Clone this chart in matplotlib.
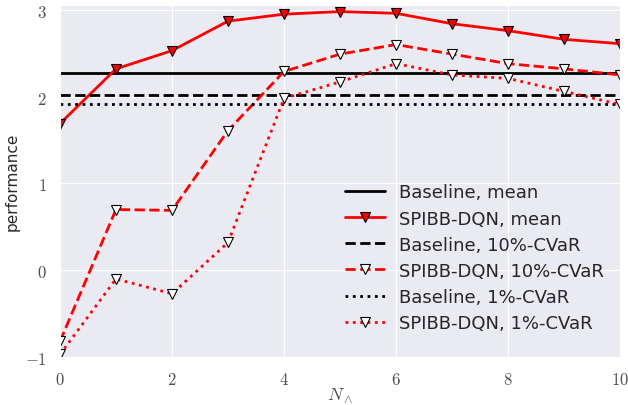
import numpy as np
import matplotlib
matplotlib.use("Agg")
import matplotlib.pyplot as plt
import seaborn as sns
from matplotlib.ticker import FuncFormatter

n_wedge = [0, 1, 2, 3, 4, 5, 6, 7, 8, 9, 10]

baseline_mean = 2.27
baseline_cvar10 = 2.02
baseline_cvar1 = 1.92

spibb_mean = [1.69, 2.32, 2.53, 2.87, 2.95, 2.98, 2.96, 2.84, 2.76, 2.66, 2.61]
spibb_cvar10 = [-0.82, 0.70, 0.69, 1.61, 2.29, 2.49, 2.60, 2.49, 2.38, 2.32, 2.25]
spibb_cvar1 = [-0.97, -0.10, -0.27, 0.32, 1.98, 2.17, 2.38, 2.25, 2.21, 2.06, 1.91]

sns.set_style("darkgrid")
plt.rcParams["font.family"] = ["DejaVu Sans"]
plt.rcParams["mathtext.fontset"] = "cm"

fig = plt.figure(figsize=(6.28, 4.06), dpi=100)
ax = fig.add_axes([0.0955, 0.118, 0.892, 0.866])

xs = np.array(n_wedge)
ax.plot(xs, np.full(len(xs), baseline_mean), color="black", lw=2, ls="-",
        label="Baseline, mean")
ax.plot(xs, spibb_mean, color="red", lw=2, ls="-", marker="v", ms=6.5,
        mfc="red", mec="black", mew=0.8, label="SPIBB-DQN, mean")
ax.plot(xs, np.full(len(xs), baseline_cvar10), color="black", lw=2, ls="--",
        label="Baseline, 10%-CVaR")
ax.plot(xs, spibb_cvar10, color="red", lw=2, ls="--", marker="v", ms=6.5,
        mfc="white", mec="black", mew=0.8, label="SPIBB-DQN, 10%-CVaR")
ax.plot(xs, np.full(len(xs), baseline_cvar1), color="black", lw=2, ls=":",
        label="Baseline, 1%-CVaR")
ax.plot(xs, spibb_cvar1, color="red", lw=2, ls=":", marker="v", ms=6.5,
        mfc="white", mec="black", mew=0.8, label="SPIBB-DQN, 1%-CVaR")

ax.set_xlim(0, 10)
ax.set_ylim(-1, 3.05)
ax.set_xticks([0, 2, 4, 6, 8, 10])
ax.set_yticks([-1, 0, 1, 2, 3])
fmt = FuncFormatter(lambda v, p: "$%d$" % round(v))
ax.xaxis.set_major_formatter(fmt)
ax.yaxis.set_major_formatter(fmt)
ax.tick_params(labelsize=12, colors="0.3", pad=6)
ax.set_xlabel(r"$N_\wedge$", fontsize=13, color="0.3", labelpad=-2)
ax.set_ylabel("performance", fontsize=11, color="0.15")

ax.legend(loc="lower right", bbox_to_anchor=(1.0, 0.025), frameon=False,
          fontsize=13, handlelength=2.2, labelspacing=0.45)

fig.savefig("out.png", dpi=100)
